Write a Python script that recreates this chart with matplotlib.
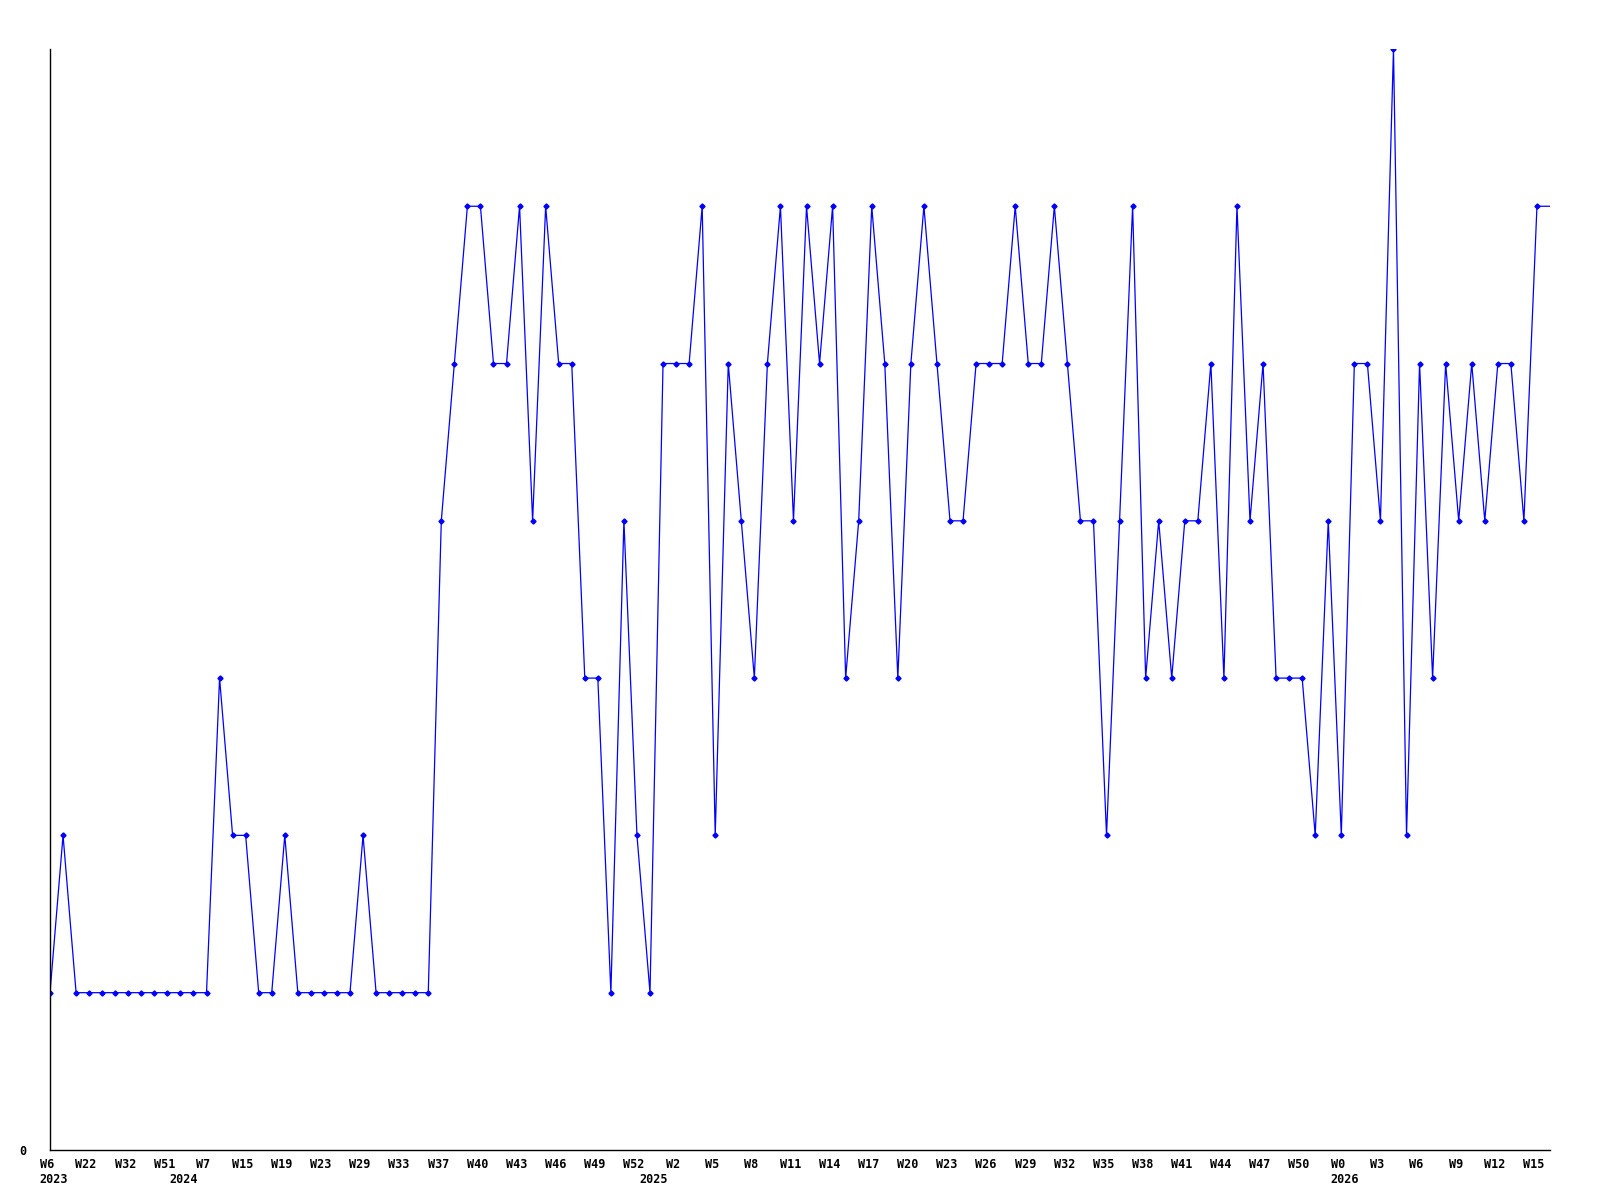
import numpy as np
import matplotlib.pyplot as plt
import matplotlib.transforms as mtransforms

# weekly counts, one per point
counts = [1, 2, 1, 1, 1, 1, 1, 1, 1, 1, 1, 1, 1, 3, 2, 2, 1, 1, 2, 1,
          1, 1, 1, 1, 2, 1, 1, 1, 1, 1, 4, 5, 6, 6, 5, 5, 6, 4, 6, 5,
          5, 3, 3, 1, 4, 2, 1, 5, 5, 5, 6, 2, 5, 4, 3, 5, 6, 4, 6, 5,
          6, 3, 4, 6, 5, 3, 5, 6, 5, 4, 4, 5, 5, 5, 6, 5, 5, 6, 5, 4,
          4, 2, 4, 6, 3, 4, 3, 4, 4, 5, 3, 6, 4, 5, 3, 3, 3, 2, 4, 2,
          5, 5, 4, 7, 2, 5, 3, 5, 4, 5, 4, 5, 5, 4, 6]

# labels for every third point
week_labels = ['W6', 'W22', 'W32', 'W51', 'W7', 'W15', 'W19', 'W23', 'W29', 'W33',
               'W37', 'W40', 'W43', 'W46', 'W49', 'W52', 'W2', 'W5', 'W8', 'W11',
               'W14', 'W17', 'W20', 'W23', 'W26', 'W29', 'W32', 'W35', 'W38', 'W41',
               'W44', 'W47', 'W50', 'W0', 'W3', 'W6', 'W9', 'W12', 'W15']
# first point of each year
year_points = [0, 10, 46, 99]
year_labels = ['2023', '2024', '2025', '2026']

font = {'family': 'DejaVu Sans Mono', 'weight': 'bold', 'size': 8.5}

x = np.arange(len(counts))
y = np.array(counts)

fig = plt.figure(figsize=(16, 12), dpi=100)
ax = fig.add_axes([0.03125, 0.0417, 0.9375, 0.9175])

# line runs on to the right edge at the last value
ax.plot(np.append(x, len(x)), np.append(y, y[-1]), color='#0000ff', lw=0.9)
ax.plot(x, y, ls='none', marker='D', ms=2.6, color='#0000ff')

ax.set_xlim(0, len(x))
ax.set_ylim(0, y.max())

ax.spines['top'].set_visible(False)
ax.spines['right'].set_visible(False)
ax.spines['left'].set_linewidth(1.0)
ax.spines['bottom'].set_linewidth(1.0)

ax.set_xticks(x[::3])
ax.set_xticklabels(week_labels, fontdict=font)
ax.set_yticks([0])
ax.set_yticklabels(['0'], fontdict=font)
ax.tick_params(axis='x', length=0, pad=6)
ax.tick_params(axis='y', length=0, pad=17)

# nudge week labels slightly left like the original
shift = mtransforms.ScaledTranslation(-3 / 100, 0, fig.dpi_scale_trans)
for lab in ax.get_xticklabels():
    lab.set_transform(lab.get_transform() + shift)

for p, yr in zip(year_points, year_labels):
    ax.annotate(yr, xy=(p, 0), xycoords=('data', 'axes fraction'),
                xytext=(-8, -16.5), textcoords='offset points',
                ha='left', va='top', **font)

fig.savefig('out.png', dpi=100)
